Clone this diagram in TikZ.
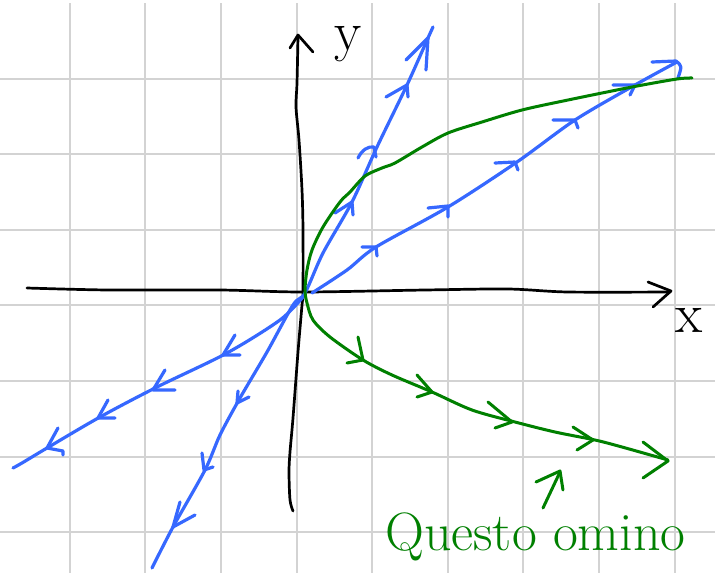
\documentclass[tikz,border=0pt]{standalone}
\usepackage{tikz}
\definecolor{gridgray}{RGB}{211,211,211}
\definecolor{penblue}{RGB}{54,104,255}
\definecolor{pengreen}{RGB}{0,128,0}
\tikzset{
  gridline/.style={draw=gridgray,line width=2pt},
  axisline/.style={draw=black,line width=2.7pt,line cap=round,line join=round},
  blueline/.style={draw=penblue,line width=3.2pt,line cap=round,line join=round},
  greenline/.style={draw=pengreen,line width=3pt,line cap=round,line join=round},
  handlabel/.style={inner sep=0pt,font=\fontsize{56}{60}\selectfont},
  greentext/.style={inner sep=0pt,text=pengreen,font=\fontsize{54}{60}\selectfont,anchor=base west},
}
\begin{document}
\begin{tikzpicture}[x=1pt,y=-1pt]
\clip (0,0) rectangle (715,573);
\fill[white] (0,0) rectangle (715,573);
% grid
\foreach \k in {0,...,8} {\draw[gridline] ({69.7+75.6*\k},3) -- ({69.7+75.6*\k},573);}
\foreach \k in {0,...,6} {\draw[gridline] (0,{78.6+75.6*\k}) -- (715,{78.6+75.6*\k});}
% axes
\coordinate (O) at (304,292);
\draw[axisline] plot[smooth,tension=0.5] coordinates {(27,288) (108,290) (220,290) (303,292) (425,290) (508,289) (568,292) (670,292)};
\draw[axisline] (648,282) -- (671,291) -- (653,307);
\draw[axisline] plot[smooth,tension=0.5] coordinates {(293,511) (290,500) (289,472) (290,452) (293,418) (298,352) (302,305) (303,292) (303,230) (302,190) (299,140) (296,107) (297,83) (298,37)};
\draw[axisline] (290,48) -- (298,35) -- (313,52);
\node[handlabel,anchor=base] (ylab) at (348,50) {y};
\node[handlabel] (xlab) at (689,320) {x};
% blue eigen-directions
\draw[blueline] plot[smooth,tension=0.5] coordinates {(152,568) (173,527) (205,470) (220,435) (240,398) (267,352) (293,305) (305,293) (323,253) (352,202) (377,147) (407,85) (428,38) (433,27)};
\draw[blueline] plot[smooth,tension=0.5] coordinates {(13,468) (22,463) (47,448) (100,417) (157,387) (227,353) (280,320) (303,297)};
\draw[blueline] plot[smooth,tension=0.5] coordinates {(312,293) (347,270) (376,247) (448,207) (517,162) (575,120) (635,85) (677,62)};
% blue arrowheads
\draw[blueline] (335,213) -- (352,202) -- (353,215);
\draw[blueline] (358,158) .. controls (362,150) and (368,146) .. (374,147) -- (376,157);
\draw[blueline] (386,97) -- (407,85) -- (408,97);
\draw[blueline] (406,60) -- (428,38) -- (426,70);
\draw[blueline] (238,391) -- (237,403) -- (249,397);
\draw[blueline] (202,453) -- (204,470) -- (213,467);
\draw[blueline] (180,502) -- (173,527) -- (195,515);
\draw[blueline] (362,247) -- (376,247) -- (377,256);
\draw[blueline] (428,208) -- (448,206) -- (448,217);
\draw[blueline] (495,163) -- (515,162) -- (518,170);
\draw[blueline] (553,120) -- (575,120) -- (578,128);
\draw[blueline] (613,85) -- (635,85) -- (630,95);
\draw[blueline] (652,62) -- (676,61) .. controls (682,66) .. (678,78);
\draw[blueline] (235,335) -- (223,355) -- (240,355);
\draw[blueline] (165,370) -- (153,390) -- (175,390);
\draw[blueline] (108,400) -- (98,418) -- (115,418);
\draw[blueline] (58,428) -- (47,448) -- (63,451) -- (63,455);
% green trajectory
\draw[greenline] plot[smooth,tension=0.5] coordinates {(692,78) (677,79) (632,87) (568,100) (522,110) (482,122) (448,133) (422,147) (395,163) (382,168) (365,176) (350,192) (340,202) (323,227) (312,250) (307,270) (305,290) (307,303) (313,320) (330,337) (363,360) (392,375) (432,392) (472,410) (515,422) (555,432) (595,440) (622,447) (668,460)};
\draw[greenline] (358,337) -- (363,360) -- (347,363);
\draw[greenline] (417,375) -- (432,392) -- (417,397);
\draw[greenline] (488,402) -- (512,422) -- (495,428);
\draw[greenline] (573,427) -- (593,440) -- (577,450);
\draw[greenline] (643,442) -- (668,461) -- (643,478);
% small pointer arrow and note
\coordinate (ptail) at (543,508);
\coordinate (phead) at (560,472);
\draw[greenline] (ptail) -- (phead);
\draw[greenline] (536,482) -- (560,471) -- (563,490);
\node[greentext] (note) at (385,550) {Questo omino};
\end{tikzpicture}
\end{document}
